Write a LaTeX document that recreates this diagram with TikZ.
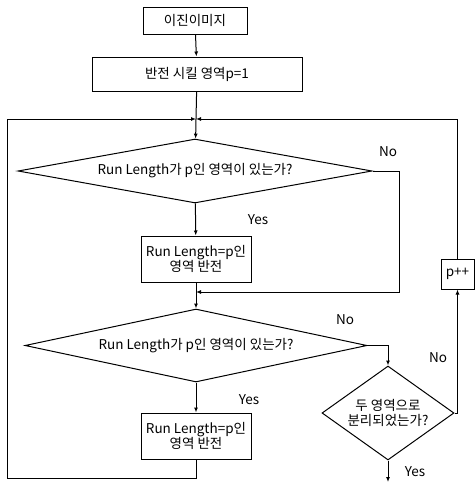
\documentclass[tikz,border=0pt]{standalone}
\usepackage{fontspec}
\newfontfamily\kr{Noto Sans CJK KR}
\usetikzlibrary{arrows.meta,positioning,shapes.geometric,calc}

\begin{document}
\begin{tikzpicture}[x=1pt, y=-1pt, >={Latex[length=5pt,width=4pt]}, line width=1pt, font=\kr\fontsize{13.5}{15.5}\selectfont]
  \tikzstyle{box}=[draw, align=center, inner sep=1pt]
  \tikzstyle{dec}=[draw, diamond, align=center, inner sep=0pt]
  \useasboundingbox (0,0) rectangle (475,483);

  \node[box, minimum width=104pt, minimum height=27pt] (b1) at (195,20.5) {이진이미지};
  \node[box, minimum width=210pt, minimum height=34pt] (b2) at (197,74) {반전 시킬 영역p=1};
  \coordinate (jn) at (196,119);
  \node[dec, aspect=5.5, minimum width=354pt, minimum height=64pt] (d1) at (195,171) {Run Length가 p인 영역이 있는가?};
  \node[box, minimum width=110pt, minimum height=46pt] (b3) at (196,259) {Run Length=p인\\영역 반전};
  \coordinate (mg) at (196,292);
  \node[dec, aspect=4.7, minimum width=342pt, minimum height=73pt] (d2) at (196,345.5) {Run Length가 p인 영역이 있는가?};
  \node[box, minimum width=110pt, minimum height=46pt] (b4) at (196,436) {Run Length=p인\\영역 반전};
  \node[dec, aspect=1.4, minimum width=132pt, minimum height=94pt] (d3) at (388,413) {두 영역으로\\분리되었는가?};
  \node[box, minimum width=33pt, minimum height=30pt] (pp) at (457.5,274) {p++};
  \coordinate (lc) at (7,478);
  \coordinate (rt) at (399,171);
  \coordinate (end) at (388,482);

  \draw[->] (b1) -- (b2);
  \draw (b2) -- (jn);
  \draw[->] (jn) -- (d1);
  \draw[->] (d1) -- (b3);
  \node at (258,220) {Yes};
  \draw (b3) -- (mg);
  \draw[->] (mg) -- (d2);
  \draw[->] (d1.east) -- (rt) |- (mg);
  \node at (388,152) {No};
  \draw[->] (d2) -- (b4);
  \node at (249,400) {Yes};
  \draw[->] (b4) -- (b4.south |- lc) -- (lc) |- (jn);
  \draw[->] (d2.east) -| (d3.north);
  \node at (345,320) {No};
  \draw[->] (d3.east) -| (pp.south);
  \node at (438,358) {No};
  \draw[->] (pp.north) |- (jn);
  \draw[->] (d3.south) -- (end);
  \node at (415,472) {Yes};
\end{tikzpicture}
\end{document}
